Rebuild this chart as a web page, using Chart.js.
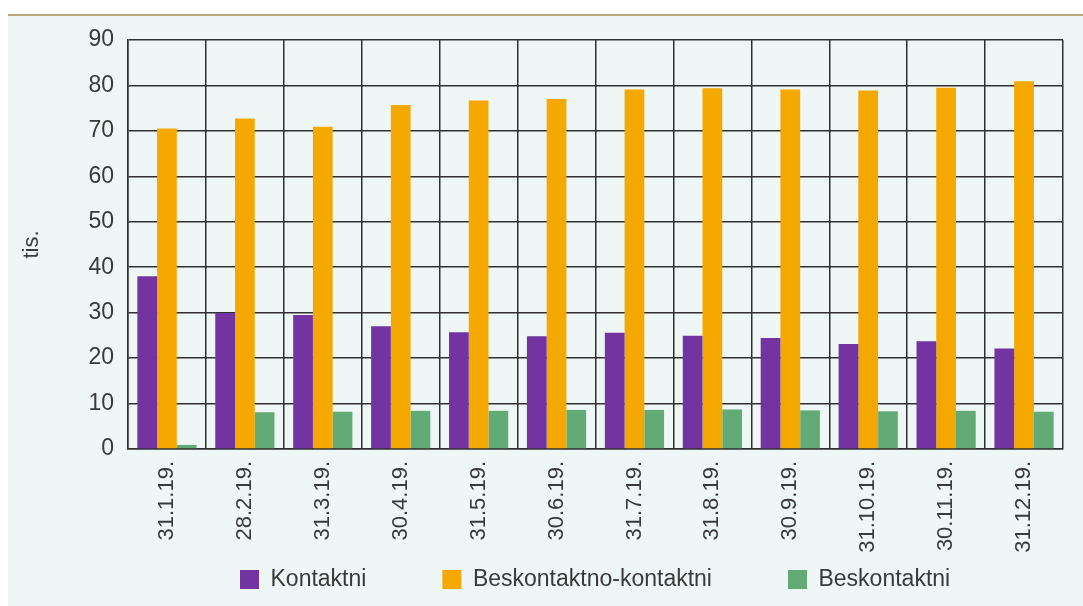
<!DOCTYPE html>
<html>
<head>
<meta charset="utf-8">
<script src="https://cdn.jsdelivr.net/npm/chart.js@4"></script>
<style>
  html, body { margin: 0; padding: 0; background: #ffffff; }
  #wrap { position: relative; width: 1083px; height: 606px; overflow: hidden; }
  #bg { position: absolute; left: 8px; top: 14px; width: 1075px; height: 592px;
        background: #eef7f5; border-top: 2px solid #b9a57b; box-sizing: border-box; }
  #c { position: absolute; left: 0; top: 0; }
</style>
</head>
<body>
<div id="wrap">
  <div id="bg"></div>
  <canvas id="c" width="1083" height="606"></canvas>
</div>
<script>
const categories = ['31.1.19.', '28.2.19.', '31.3.19.', '30.4.19.', '31.5.19.', '30.6.19.',
                    '31.7.19.', '31.8.19.', '30.9.19.', '31.10.19.', '30.11.19.', '31.12.19.'];
const kontaktni = [38.0, 29.9, 29.5, 27.0, 25.7, 24.8, 25.6, 24.9, 24.4, 23.1, 23.7, 22.1];
const beskontaktnoKontaktni = [70.5, 72.7, 70.9, 75.7, 76.7, 77.0, 79.1, 79.4, 79.1, 78.9, 79.5, 80.9];
const beskontaktni = [0.9, 8.1, 8.2, 8.4, 8.4, 8.6, 8.6, 8.7, 8.5, 8.3, 8.4, 8.2];
const seriesNames = ['Kontaktni', 'Beskontaktno-kontaktni', 'Beskontaktni'];
const yTitle = 'tis.';

const FONT = "'Liberation Sans', Arial, sans-serif";
const GRID = '#303030';
const TEXT = '#3a3a3a';
const LEGEND_PAD = 76;

const legendPlace = {
  id: 'legendPlace',
  beforeLayout(chart) {
    const lg = chart.legend;
    if (lg && !lg._patchedFit) {
      const fit = lg.fit;
      lg.fit = function () { fit.call(this); this.height = 47; };
      lg._patchedFit = true;
    }
  },
  afterLayout(chart) {
    const lg = chart.legend;
    if (lg) {
      const w = lg.right - lg.left;
      lg.left = 240 - LEGEND_PAD;
      lg.right = lg.left + w;
      lg.top = 568 - LEGEND_PAD;
      lg.bottom = 606;
      lg.height = lg.bottom - lg.top;
    }
  }
};

new Chart(document.getElementById('c'), {
  type: 'bar',
  data: {
    labels: categories,
    datasets: [
      { label: seriesNames[0], data: kontaktni, backgroundColor: '#7334a2', borderWidth: 0 },
      { label: seriesNames[1], data: beskontaktnoKontaktni, backgroundColor: '#f5a900', borderWidth: 0 },
      { label: seriesNames[2], data: beskontaktni, backgroundColor: '#62ab77', borderWidth: 0 }
    ]
  },
  options: {
    responsive: false,
    animation: false,
    layout: { padding: { top: 40, right: 20, left: 0, bottom: 0 } },
    datasets: { bar: { categoryPercentage: 0.76, barPercentage: 1.0 } },
    plugins: {
      tooltip: { enabled: false },
      legend: {
        position: 'bottom',
        align: 'start',
        labels: {
          boxWidth: 19, boxHeight: 19, padding: LEGEND_PAD,
          color: TEXT, font: { family: FONT, size: 23 }
        }
      }
    },
    scales: {
      x: {
        grid: { display: true, offset: true, color: GRID, lineWidth: 1.5, drawTicks: false },
        border: { display: true, color: GRID, width: 1.5 },
        ticks: {
          autoSkip: false, maxRotation: 90, minRotation: 90, padding: 12,
          color: TEXT, font: { family: FONT, size: 22 }
        },
        afterFit(scale) { scale.height = 110; }
      },
      y: {
        min: 0, max: 90,
        grid: { color: GRID, lineWidth: 1.5, drawTicks: false },
        border: { display: true, color: GRID, width: 1.5 },
        ticks: { stepSize: 10, padding: 14, color: TEXT, font: { family: FONT, size: 23 } },
        title: {
          display: true, text: yTitle, color: TEXT,
          font: { family: FONT, size: 22 }, padding: { top: 19, bottom: 0 }
        },
        afterFit(scale) { scale.width = 128; }
      }
    }
  },
  plugins: [legendPlace]
});
</script>
</body>
</html>
